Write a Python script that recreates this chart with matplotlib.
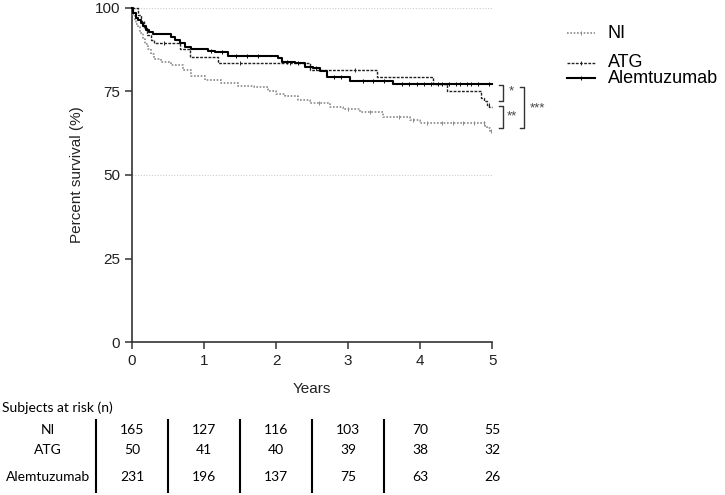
import numpy as np
import matplotlib
matplotlib.use("Agg")
import matplotlib.pyplot as plt
from matplotlib.lines import Line2D
from matplotlib.transforms import blended_transform_factory

plt.rcParams["font.family"] = ["Liberation Sans", "DejaVu Sans"]

# Kaplan-Meier steps (years, % surviving)
ni_t = [0, 0.02, 0.04, 0.06, 0.083, 0.11, 0.15, 0.18, 0.22, 0.26, 0.31, 0.41,
        0.54, 0.71, 0.82, 1.01, 1.24, 1.47, 1.70, 1.89, 2.0, 2.12, 2.3, 2.47,
        2.75, 2.93, 3.17, 3.49, 3.86, 4.0, 4.9, 4.93, 4.97, 5.0]
ni_s = [100, 98, 96.4, 95.3, 94.2, 92.5, 90.7, 89.2, 87.7, 86.3, 84.8, 83.8,
        82.8, 81.3, 79.5, 78.5, 77.5, 76.7, 76.3, 75.0, 74.2, 73.5, 72.4, 71.4,
        70.4, 69.7, 68.9, 67.5, 66.5, 65.5, 64.8, 64.0, 63.3, 63.3]
ni_cens = [2.6, 3.0, 3.3, 3.7, 3.9, 4.1, 4.3, 4.45, 4.6, 4.75, 4.88, 4.98]

atg_t = [0, 0.08, 0.12, 0.17, 0.21, 0.26, 0.31, 0.66, 0.80, 1.19, 2.47, 3.40,
         4.18, 4.37, 4.85, 4.88, 4.92, 4.96, 5.0]
atg_s = [100, 98, 96, 94, 92, 90.5, 89.6, 87.6, 85.2, 83.4, 81.4, 79.2,
         77.1, 75.0, 73.0, 72.0, 71.0, 70.4, 70.4]
atg_cens = [0.45, 1.5, 2.2, 3.1, 4.95]

alem_t = [0, 0.02, 0.05, 0.08, 0.12, 0.16, 0.2, 0.24, 0.29, 0.54, 0.6, 0.66,
          0.73, 0.82, 1.05, 1.15, 1.33, 2.03, 2.08, 2.26, 2.4, 2.51, 2.61, 2.70,
          3.03, 3.62, 5.0]
alem_s = [100, 98.5, 97, 96.5, 95.5, 94.5, 93.5, 92.8, 92.1, 91.4, 90.5, 89.4,
          88.4, 87.7, 87.2, 86.9, 85.6, 84.9, 83.9, 83.4, 82.4, 81.9, 81.0, 79.2,
          78.2, 77.1, 77.1]
alem_cens = [1.1, 1.25, 1.45, 1.6, 1.75, 2.15, 2.3, 2.55, 2.8, 2.9, 3.2, 3.35,
             3.5, 3.75, 3.85, 3.95, 4.05, 4.15, 4.25, 4.3, 4.4, 4.5, 4.55, 4.65,
             4.7, 4.8, 4.95]

groups = ["NI", "ATG", "Alemtuzumab"]
years = [0, 1, 2, 3, 4, 5]
at_risk_ni = [165, 127, 116, 103, 70, 55]
at_risk_atg = [50, 41, 40, 39, 38, 32]
at_risk_alem = [231, 196, 137, 75, 63, 26]


def step_value(t, s, x):
    idx = np.searchsorted(t, x, side="right") - 1
    return np.asarray(s)[idx]


fig = plt.figure(figsize=(7.25, 4.95), dpi=100)
ax = fig.add_axes([0.182, 0.309, 0.497, 0.675])

styles = [
    (ni_t, ni_s, ni_cens, dict(color="#8a8a8a", linestyle=(0, (1, 1)), linewidth=1.2)),
    (atg_t, atg_s, atg_cens, dict(color="#222222", linestyle=(0, (2, 1)), linewidth=1.0)),
    (alem_t, alem_s, alem_cens, dict(color="black", linestyle="-", linewidth=1.5)),
]
for t, s, cens, st in styles:
    ax.step(t, s, where="post", clip_on=False, zorder=3, **st)
    ax.plot(cens, step_value(t, s, cens), linestyle="none", marker="|",
            markersize=3, markeredgewidth=0.7, color=st["color"], clip_on=False, zorder=3)

for y in [100, 50]:
    ax.plot([0, 5], [y, y], color="#cccccc", linestyle=(0, (1, 1.5)), linewidth=0.8, zorder=1)

ax.set_xlim(0, 5)
ax.set_ylim(0, 100)
ax.set_xticks(years)
ax.set_yticks([0, 25, 50, 75, 100])
ax.tick_params(labelsize=11, length=5, width=1.1, color="#333333", labelcolor="#222222")
for side in ["top", "right"]:
    ax.spines[side].set_visible(False)
for side in ["left", "bottom"]:
    ax.spines[side].set_linewidth(1.2)
    ax.spines[side].set_color("#333333")
ax.set_xlabel("Years", fontsize=11, labelpad=10, color="#222222")
ax.set_ylabel("Percent survival (%)", fontsize=11, labelpad=8, color="#222222")

# significance brackets
def bracket(x0, x1, y0, y1, label, lx, ly):
    ax.plot([x0, x1, x1, x0], [y0, y0, y1, y1], color="#333333", linewidth=1.0, clip_on=False)
    ax.text(lx, ly, label, fontsize=9.5, ha="center", va="center", color="#444444")

bracket(5.09, 5.15, 76.9, 72.2, "*", 5.26, 75.0)
bracket(5.09, 5.15, 70.7, 64.1, "**", 5.27, 67.4)
bracket(5.38, 5.44, 76.3, 64.1, "***", 5.62, 70.0)

# legend drawn by hand to keep the uneven spacing
legend_y = [0.933, 0.873, 0.842]
for (t, s, cens, st), name, yy in zip(styles, groups, legend_y):
    fig.add_artist(Line2D([0.782, 0.821], [yy, yy], transform=fig.transFigure, **st))
    fig.add_artist(Line2D([0.8015], [yy], transform=fig.transFigure, marker="|",
                          markersize=3, markeredgewidth=0.7, color=st["color"]))
    fig.text(0.838, yy, name, fontsize=13, va="center", ha="left")

# numbers at risk
tf = blended_transform_factory(ax.transData, fig.transFigure)
fig.text(0.003, 0.176, "Subjects at risk (n)", fontsize=10, family="Lato", va="center")
row_y = [0.131, 0.091, 0.036]
row_span = [(0.152, 0.111), (0.107, 0.074), (0.070, 0.006)]
for name, vals, yy in zip(groups, [at_risk_ni, at_risk_atg, at_risk_alem], row_y):
    fig.text(0.066, yy, name, fontsize=10, family="Lato", ha="center", va="center")
    for x, v in zip(years, vals):
        ax.text(x, yy, str(v), transform=tf, fontsize=10, family="Lato",
                ha="center", va="center")
for x in np.array(years[:-1]) - 0.5:
    for y0, y1 in row_span:
        fig.add_artist(Line2D([x, x], [y0, y1], transform=tf, color="black", linewidth=1.5))

fig.savefig("out.png", dpi=100)
